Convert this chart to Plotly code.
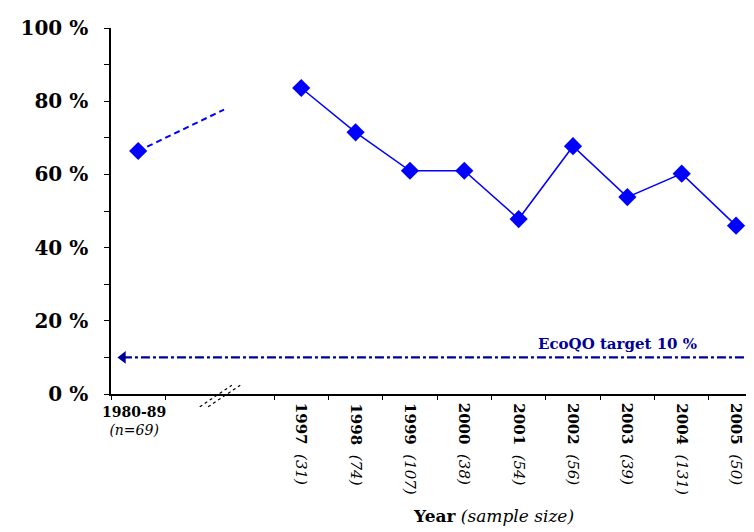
import plotly.graph_objects as go

# ---- data ----
period_labels = ["1980-89", "1997", "1998", "1999", "2000", "2001", "2002", "2003", "2004", "2005"]
sample_sizes = ["n=69", "31", "74", "107", "38", "54", "56", "39", "131", "50"]
x_pos = [0, 3, 4, 5, 6, 7, 8, 9, 10, 11]
pct_oiled = [66.4, 83.6, 71.5, 61.0, 61.0, 47.8, 67.7, 53.8, 60.2, 46.0]
trend_x = [0, 1.58]
trend_y = [66.4, 77.7]
target_value = 10
target_x = [-0.28, 11.27]
y_ticks = [0, 10, 20, 30, 40, 50, 60, 70, 80, 90, 100]
y_ticktext = ["0 %", "", "20 %", "", "40 %", "", "60 %", "", "80 %", "", "100 %"]

BLUE = "#0000FF"
NAVY = "#000099"
SERIF = "DejaVu Serif, Liberation Serif, serif"

fig = go.Figure()

# 1980-89 point
fig.add_trace(go.Scatter(x=x_pos[:1], y=pct_oiled[:1], mode="markers",
                         marker=dict(symbol="diamond", size=14, color=BLUE),
                         showlegend=False))
# dashed trend continuation
fig.add_trace(go.Scatter(x=trend_x, y=trend_y, mode="lines",
                         line=dict(color=BLUE, width=2, dash="6px,4px"),
                         showlegend=False))
# 1997-2005
fig.add_trace(go.Scatter(x=x_pos[1:], y=pct_oiled[1:], mode="lines+markers",
                         line=dict(color=BLUE, width=1.5),
                         marker=dict(symbol="diamond", size=14, color=BLUE),
                         showlegend=False))
# target line
fig.add_trace(go.Scatter(x=target_x, y=[target_value] * 2, mode="lines+markers",
                         line=dict(color=NAVY, width=2.2, dash="dashdot"),
                         marker=dict(symbol=["triangle-left", "triangle-right"], size=11, color=NAVY),
                         showlegend=False))

annotations = []
# year tick labels
for xp, lab, n in zip(x_pos, period_labels, sample_sizes):
    if xp == 0:
        annotations.append(dict(x=xp, y=0, xref="x", yref="paper", yanchor="top", xanchor="center",
                                yshift=-8, xshift=-4, showarrow=False,
                                text=f"<b>{lab}</b><br><i>({n})</i>",
                                font=dict(family=SERIF, size=14, color="black")))
    else:
        annotations.append(dict(x=xp, y=0, xref="x", yref="paper", yanchor="top", xanchor="center",
                                yshift=-7, showarrow=False, textangle=90,
                                text=f"<b>{lab}</b>  <i>({n})</i>",
                                font=dict(family=SERIF, size=15, color="black")))
# target label
annotations.append(dict(x=8.82, y=target_value, xref="x", yref="y", yanchor="bottom", xanchor="center",
                        yshift=2, showarrow=False, text="<b>EcoQO target 10 %</b>",
                        font=dict(family=SERIF, size=15, color=NAVY)))
# axis title
annotations.append(dict(x=0.595, y=-0.333, xref="paper", yref="paper", xanchor="center", yanchor="middle",
                        showarrow=False, text="<b>Year</b> <i>(sample size)</i>",
                        font=dict(family=SERIF, size=17, color="black")))

# axis-break marks
shapes = []
for dx in (0.0, 0.013):
    shapes.append(dict(type="line", xref="paper", yref="paper",
                       x0=0.138 + dx, y0=-0.035, x1=0.188 + dx, y1=0.024,
                       line=dict(color="black", width=1.2, dash="dot")))

fig.update_layout(
    width=754, height=532,
    margin=dict(l=103, r=8, t=14, b=146),
    plot_bgcolor="white", paper_bgcolor="white",
    annotations=annotations, shapes=shapes,
    xaxis=dict(range=[-0.5, 11.33], showgrid=False, zeroline=False,
               showline=True, linecolor="black", linewidth=1.5,
               tickvals=[-0.5, 0.5, 2.5, 3.5, 4.5, 5.5, 6.5, 7.5, 8.5, 9.5, 10.5],
               ticks="outside", ticklen=4, tickcolor="black", showticklabels=False),
    yaxis=dict(range=[0, 100], showgrid=False, zeroline=False,
               showline=True, linecolor="black", linewidth=1.5,
               tickvals=y_ticks, ticktext=[f"<b>{t}</b>" if t else "" for t in y_ticktext],
               ticks="outside", ticklen=5,
               tickcolor="black", tickfont=dict(family=SERIF, size=20, color="black"),
               ticklabelstandoff=12),
)

fig.write_html("out.html")
